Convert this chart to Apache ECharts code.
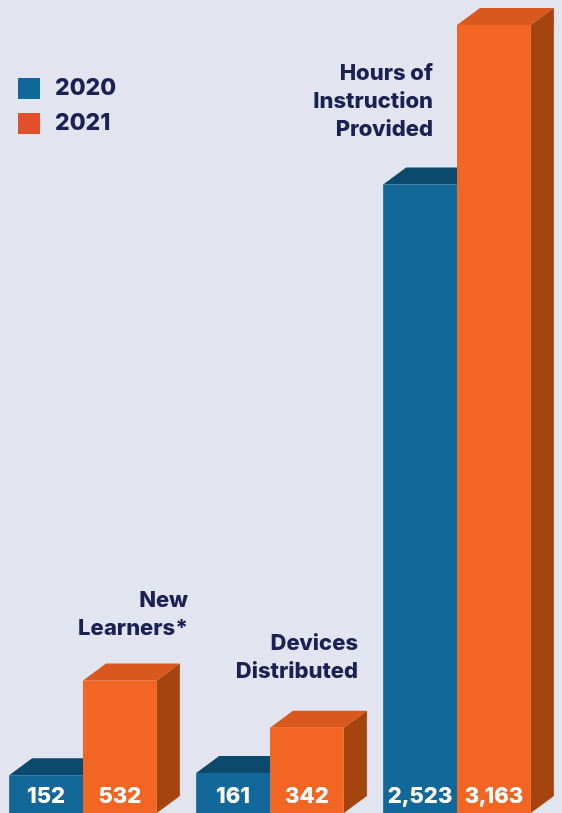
<!DOCTYPE html>
<html>
<head>
<meta charset="utf-8">
<script src="https://cdn.jsdelivr.net/npm/echarts@6/dist/echarts.min.js"></script>
<style>
  html, body { margin: 0; padding: 0; background: #e2e5ef; }
  #chart { width: 562px; height: 813px; }
</style>
</head>
<body>
<div id="chart"></div>
<script>
// data
var categories = ['New\nLearners*', 'Devices\nDistributed', 'Hours of\nInstruction\nProvided'];
var years = ['2020', '2021'];
var values2020 = [152, 161, 2523];
var values2021 = [532, 342, 3163];

// colours per year: front, top, side
var faces = [
  { front: '#126899', top: '#0c4a6d', side: '#0b3f5e' },
  { front: '#f26522', top: '#d9581d', side: '#a6440f' }
];

// where each category title sits (right edge, top)
var titlePos = [[188, 586], [358, 629], [433, 59]];

var DX = 23, DY = -17;
var FONT = '800 22px Inter, sans-serif';

var chart = echarts.init(document.getElementById('chart'));

function makeRender(si) {
  return function (params, api) {
    var idx = api.value(0);
    var val = api.value(1);
    var base = api.coord([idx, 0]);
    var top = api.coord([idx, val]);
    var band = api.size([1, 0])[0];
    var w = band * 0.395;
    var x0 = si === 0 ? base[0] - w : base[0];
    var x1 = x0 + w;
    var yT = top[1], yB = base[1];
    var c = faces[si];
    return {
      type: 'group',
      children: [
        { type: 'polygon', shape: { points: [[x0, yT], [x0 + DX, yT + DY], [x1 + DX, yT + DY], [x1, yT]] }, style: { fill: c.top } },
        { type: 'polygon', shape: { points: [[x1, yT], [x1 + DX, yT + DY], [x1 + DX, yB + DY], [x1, yB]] }, style: { fill: c.side } },
        { type: 'rect', shape: { x: x0, y: yT, width: w, height: yB - yT }, style: { fill: c.front } },
        { type: 'text', x: (x0 + x1) / 2, y: yB - 17,
          style: { text: val.toLocaleString('en-US'), fill: '#fff', font: FONT, align: 'center', verticalAlign: 'middle' } }
      ]
    };
  };
}

function seriesData(arr) {
  return arr.map(function (v, i) { return [i, v]; });
}

var graphics = categories.map(function (name, i) {
  return {
    type: 'text', x: titlePos[i][0], y: titlePos[i][1],
    style: { text: name, fill: '#1b2153', font: FONT, align: 'right', verticalAlign: 'top', lineHeight: 28 }
  };
});

chart.setOption({
  backgroundColor: '#e2e5ef',
  animation: false,
  legend: {
    data: years,
    orient: 'vertical',
    left: 13,
    top: 72,
    icon: 'rect',
    itemWidth: 22,
    itemHeight: 21,
    itemGap: 12,
    textStyle: { color: '#1b2153', fontSize: 23, fontWeight: 800, fontFamily: 'Inter', padding: [0, 0, 0, 10] }
  },
  grid: { left: 83, right: 105, top: 25, bottom: 0 },
  xAxis: { type: 'category', data: categories, show: false, boundaryGap: false },
  yAxis: { type: 'value', min: 0, max: function (v) { return v.max; }, show: false },
  graphic: graphics,
  series: [
    { name: years[0], type: 'custom', renderItem: makeRender(0), data: seriesData(values2020), itemStyle: { color: '#10679a' }, encode: { x: 0, y: 1 } },
    { name: years[1], type: 'custom', renderItem: makeRender(1), data: seriesData(values2021), itemStyle: { color: '#e0502a' }, encode: { x: 0, y: 1 } }
  ]
});
</script>
</body>
</html>
